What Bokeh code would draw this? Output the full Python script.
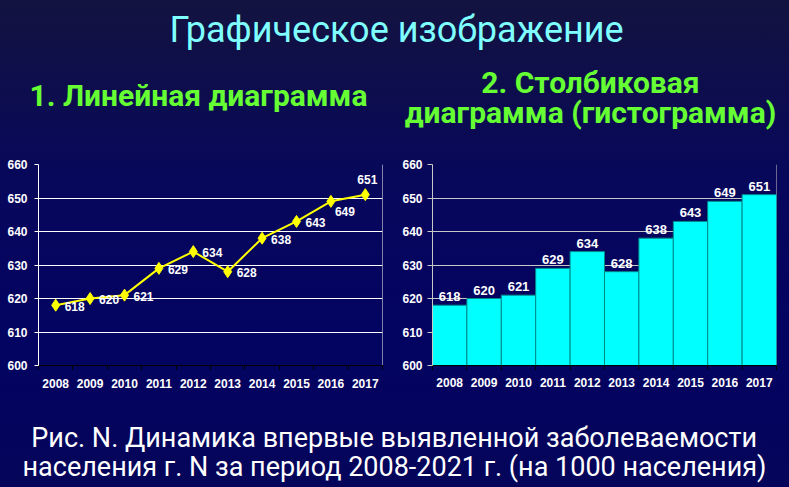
from bokeh.plotting import figure
from bokeh.layouts import column, row
from bokeh.models import Range1d, FixedTicker, Span
from bokeh.core.properties import value
from bokeh.embed import file_html
from bokeh.resources import INLINE

# ---- data ----
years = [2008, 2009, 2010, 2011, 2012, 2013, 2014, 2015, 2016, 2017]
rates = [618, 620, 621, 629, 634, 628, 638, 643, 649, 651]
y_ticks = [600, 610, 620, 630, 640, 650, 660]
main_title = "Графическое изображение"
sub1 = "1. Линейная диаграмма"
sub2 = ["2. Столбиковая", "диаграмма (гистограмма)"]
caption = ["Рис. N. Динамика впервые выявленной  заболеваемости",
           "населения г. N за период 2008-2021 г. (на 1000 населения)"]

# ---- styles ----
lab_dx = [9, 9, 9, 9, 9, 9, 9, 9, 4, 2]
lab_dy = [1, 1, 1, 1, 1, 1, 1, 1, 10, -15]
lab_align = ["left"] * 9 + ["center"]
NARROW = value("Roboto")
SANS = value("Liberation Sans")
W = 789


def blank(w, h, xr, yr):
    f = figure(width=w, height=h, x_range=xr, y_range=yr, output_backend="svg",
               toolbar_location=None, x_axis_location=None, y_axis_location=None,
               min_border=0, border_fill_color=None, background_fill_color=None,
               outline_line_color=None)
    f.grid.visible = False
    return f


# top banner (coordinates = page pixels)
top = blank(W, 150, Range1d(0, W), Range1d(150, 0))
top.text(x=[396], y=[29], text=[main_title], text_font=NARROW, text_font_size="36px",
         text_color="#7fffff", text_align="center", text_baseline="middle")
top.text(x=[198], y=[95], text=[sub1], text_font=NARROW, text_font_style="bold",
         text_font_size="30px", text_color="#66ff33", text_align="center", text_baseline="middle")
top.text(x=[590, 590], y=[82, 112], text=sub2, text_font=NARROW, text_font_style="bold",
         text_font_size="30px", text_color="#66ff33", text_align="center", text_baseline="middle")


def chart(w, borders, axis_col, grid_col, tick_out, ystand, xstand):
    f = figure(width=w, height=250, x_range=Range1d(2007.5, 2017.5), y_range=Range1d(600, 660),
               output_backend="svg", toolbar_location=None,
               min_border_left=borders[0], min_border_right=borders[1],
               min_border_top=borders[2], min_border_bottom=borders[3],
               border_fill_color=None, background_fill_color=None, outline_line_color=None)
    f.xgrid.visible = False
    f.ygrid.ticker = FixedTicker(ticks=y_ticks[1:])
    f.ygrid.grid_line_color = grid_col
    f.yaxis.ticker = FixedTicker(ticks=y_ticks)
    f.yaxis.axis_line_color = axis_col
    f.yaxis.major_tick_line_color = axis_col
    f.yaxis.major_tick_out = tick_out
    f.yaxis.major_tick_in = 0
    f.yaxis.minor_tick_line_color = None
    f.yaxis.major_label_standoff = ystand
    f.xaxis.ticker = FixedTicker(ticks=years, minor_ticks=[y - 0.5 for y in years] + [2017.5])
    f.xaxis.axis_line_color = "black"
    f.xaxis.major_tick_line_color = None
    f.xaxis.major_tick_out = 0
    f.xaxis.major_tick_in = 0
    f.xaxis.minor_tick_line_color = "black"
    f.xaxis.minor_tick_out = 4
    f.xaxis.minor_tick_in = 0
    f.xaxis.major_label_standoff = xstand
    for ax in (f.xaxis, f.yaxis):
        ax.major_label_text_color = "white"
        ax.major_label_text_font = "Liberation Sans"
        ax.major_label_text_font_style = "bold"
        ax.major_label_text_font_size = "12px"
    f.add_layout(Span(location=2017.5, dimension="height", line_color=grid_col,
                      line_width=1, level="underlay"))
    return f


left = chart(395, (38, 13, 11, 35), "white", "white", 4, 7, 9)
left.line(years, rates, line_color="#ffff00", line_width=2)
left.scatter(years, rates, marker="diamond", size=12, fill_color="#ffff00", line_color="#ffff00")
left.text(x=years, y=rates, text=[str(r) for r in rates], x_offset=lab_dx, y_offset=lab_dy,
          text_align=lab_align, text_baseline="middle", text_font=SANS, text_font_style="bold",
          text_font_size="12px", text_color="white")

right = chart(394, (37, 13, 14, 31), "#c8c8c8", "#c8c8c8", 5, 5, 8)
right.vbar(x=years, top=rates, bottom=600, width=1, fill_color="#00ffff", line_color="#008b8b")
right.text(x=years, y=rates, text=[str(r) for r in rates], y_offset=-4,
           text_align="center", text_baseline="bottom", text_font=SANS, text_font_style="bold",
           text_font_size="13px", text_color="white")

bottom = blank(W, 87, Range1d(0, W), Range1d(487, 400))
bottom.text(x=[397, 394], y=[437, 466], text=caption, text_font=NARROW, text_font_size="27px",
            text_color="white", text_align="center", text_baseline="middle")

page = column(top, row(left, right), bottom,
              styles={"background": "linear-gradient(to bottom, #131340 0%, #07075c 38%, #030362 70%, #05055a 100%)"})

open("out.html", "w").write(file_html(page, INLINE))
